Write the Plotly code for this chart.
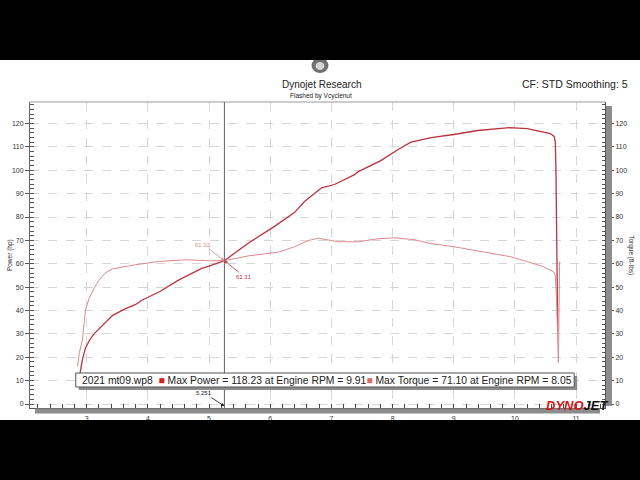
import plotly.graph_objects as go

# ---------------- data ----------------
power_rpm = [2.89, 2.93, 2.98, 3.05, 3.12, 3.21, 3.32, 3.42, 3.60, 3.80, 3.91, 4.19, 4.50,
             4.88, 5.00, 5.25, 5.65, 6.07, 6.40, 6.56, 6.80, 6.84, 7.05, 7.37, 7.44, 7.80,
             8.09, 8.30, 8.63, 9.00, 9.39, 9.70, 9.91, 10.20, 10.45, 10.58, 10.64, 10.66,
             10.67, 10.68, 10.69, 10.70]
power_hp = [13.0, 19.0, 24.0, 27.5, 30.0, 32.3, 35.5, 37.8, 40.4, 42.6, 44.5, 48.0, 53.0,
            58.0, 59.0, 61.31, 69.0, 76.0, 82.0, 86.6, 91.7, 92.5, 93.9, 98.0, 99.4, 104.0,
            108.9, 112.0, 114.0, 115.3, 117.0, 117.8, 118.23, 117.8, 116.5, 115.7, 114.5,
            112.0, 100.0, 80.0, 60.0, 31.0]

torque_rpm = [2.85, 2.88, 2.93, 2.98, 3.04, 3.12, 3.20, 3.30, 3.42, 3.60, 3.80, 4.19, 4.62,
              5.00, 5.25, 5.65, 6.14, 6.40, 6.63, 6.80, 6.84, 7.11, 7.44, 7.76, 8.05, 8.35,
              8.63, 9.00, 9.39, 9.93, 10.20, 10.47, 10.63, 10.66, 10.68, 10.70, 10.71,
              10.72, 10.73]
torque_ftlb = [16.0, 22.0, 27.4, 40.2, 45.2, 49.5, 53.0, 56.0, 57.8, 58.8, 59.6, 61.0, 61.7,
               61.3, 61.32, 63.4, 65.0, 67.3, 70.0, 71.0, 70.7, 69.4, 69.4, 70.7, 71.1, 70.3,
               68.6, 67.3, 65.6, 63.0, 60.9, 58.7, 56.6, 55.0, 45.0, 25.0, 17.6, 40.0, 61.0]

x_ticks = [3, 4, 5, 6, 7, 8, 9, 10, 11]
y_ticks = [0, 10, 20, 30, 40, 50, 60, 70, 80, 90, 100, 110, 120]

cursor_rpm = 5.251
cursor_power = 61.31
cursor_torque = 61.32

run_name = "2021 mt09.wp8"
max_power, max_power_rpm = 118.23, 9.91
max_torque, max_torque_rpm = 71.10, 8.05

# ---------------- layout geometry (pixels) ----------------
L, R, T, B = 27, 605, 102, 408
W, H = R - L, B - T


def px(x):
    return (x - L) / W


def py(y):
    return (B - y) / H


POWER_COLOR = "#b8343f"
TORQUE_COLOR = "#dc8a8e"
FONT = "Liberation Sans"

fig = go.Figure()
fig.add_trace(go.Scatter(x=power_rpm, y=power_hp, mode="lines",
                         line=dict(color=POWER_COLOR, width=1.3), yaxis="y",
                         showlegend=False, hoverinfo="skip"))
fig.add_trace(go.Scatter(x=torque_rpm, y=torque_ftlb, mode="lines",
                         line=dict(color=TORQUE_COLOR, width=1), yaxis="y2",
                         showlegend=False, hoverinfo="skip"))

yr = [-1.71, 129.2]

axis_common = dict(showgrid=True, gridcolor="#d6d6d6", griddash="dash", gridwidth=1,
                   zeroline=False, tickfont=dict(family=FONT, size=7, color="#333"))

fig.update_layout(
    width=640, height=480,
    margin=dict(l=L, r=640 - R, t=T, b=480 - B),
    paper_bgcolor="white", plot_bgcolor="white",
    xaxis=dict(range=[2.073, 11.472], tickvals=x_ticks, ticks="inside", ticklen=4,
               tickcolor="#444", showline=True, linecolor="#555", linewidth=1,
               mirror=False, ticklabelstandoff=4,
               minor=dict(dtick=0.2, tick0=0, ticks="inside", ticklen=4,
                          tickcolor="#444", showgrid=False),
               **axis_common),
    yaxis=dict(range=yr, tickvals=y_ticks, ticks="outside", ticklen=4,
               tickcolor="#555", showline=True, linecolor="#666", linewidth=1,
               minor=dict(dtick=2, tick0=0, ticks="inside", ticklen=4,
                          tickcolor="#555", showgrid=False),
               **axis_common),
    yaxis2=dict(range=yr, tickvals=y_ticks, overlaying="y", side="right",
                ticks="outside", ticklen=8, tickcolor="#555", showline=True,
                linecolor="#555", linewidth=1, showgrid=False, zeroline=False,
                tickfont=dict(family=FONT, size=7, color="#333"),
                minor=dict(dtick=2, tick0=0, ticks="inside", ticklen=3,
                           tickcolor="#555")),
    showlegend=False,
)

shapes = []
# top frame line
shapes.append(dict(type="line", xref="paper", yref="paper", x0=0, x1=1, y0=1, y1=1,
                   line=dict(color="#999", width=1)))
# x-axis gray bar
shapes.append(dict(type="rect", xref="paper", yref="paper", x0=px(32), x1=px(600),
                   y0=py(413.5), y1=py(408.5), fillcolor="#8c8c8c", line=dict(width=0)))
# right axis gray bar
shapes.append(dict(type="rect", xref="paper", yref="paper", x0=px(606), x1=px(612),
                   y0=py(406), y1=py(106), fillcolor="#8c8c8c", line=dict(width=0)))
# cursor line
shapes.append(dict(type="line", xref="x", yref="paper", x0=cursor_rpm, x1=cursor_rpm,
                   y0=0, y1=1, line=dict(color="#666", width=1)))
# legend box shadow + box
shapes.append(dict(type="rect", xref="paper", yref="paper", x0=px(76), x1=px(577),
                   y0=py(390), y1=py(376), fillcolor="#8c8c8c", line=dict(width=0)))
shapes.append(dict(type="rect", xref="paper", yref="paper", x0=px(73), x1=px(574),
                   y0=py(387), y1=py(373), fillcolor="white",
                   line=dict(color="#555", width=1)))
# top emblem (partially hidden)
shapes.append(dict(type="circle", xref="paper", yref="paper", x0=px(310), x1=px(327),
                   y0=py(73), y1=py(58), fillcolor="#333", line=dict(width=0),
                   opacity=0.7))
shapes.append(dict(type="circle", xref="paper", yref="paper", x0=px(314), x1=px(323),
                   y0=py(70), y1=py(62), fillcolor="#eee", line=dict(width=0),
                   opacity=0.8))
# black letterbox bars
shapes.append(dict(type="rect", xref="paper", yref="paper", x0=px(-5), x1=px(645),
                   y0=py(60), y1=py(-5), fillcolor="black", line=dict(width=0)))
shapes.append(dict(type="rect", xref="paper", yref="paper", x0=px(-5), x1=px(645),
                   y0=py(485), y1=py(420), fillcolor="black", line=dict(width=0)))
fig.update_layout(shapes=shapes)


def label(x, y, text, size, color="#222", xanchor="center", **kw):
    return dict(xref="paper", yref="paper", x=px(x), y=py(y), text=text,
                showarrow=False, xanchor=xanchor, yanchor="middle",
                font=dict(family=FONT, size=size, color=color), **kw)


ann = []
ann.append(label(320, 84, "Dynojet Research", 10))
ann.append(label(320, 96, "Flashed by Vcyclenut", 6.5))
ann.append(label(630, 84, "CF: STD Smoothing: 5", 10.5, xanchor="right"))
ann.append(label(7, 255, "Power (hp)", 6.5, "#333", textangle=-90))
ann.append(label(631, 255, "Torque (ft-lbs)", 6.5, "#333", textangle=90))
# cursor readouts
ann.append(dict(x=cursor_rpm, y=cursor_torque, yref="y2", text=f"{cursor_torque:.2f}",
                showarrow=True, ax=-21, ay=-16, arrowhead=2, arrowsize=0.8,
                arrowwidth=0.8, arrowcolor=TORQUE_COLOR,
                font=dict(family=FONT, size=6, color=TORQUE_COLOR)))
ann.append(dict(x=cursor_rpm, y=cursor_power, text=f"{cursor_power:.2f}",
                showarrow=True, ax=20, ay=16, arrowhead=2, arrowsize=0.8,
                arrowwidth=0.8, arrowcolor=POWER_COLOR,
                font=dict(family=FONT, size=6, color=POWER_COLOR)))
ann.append(dict(x=cursor_rpm, y=-0.9, text=f"{cursor_rpm:.3f}", showarrow=True,
                ax=-20, ay=-13, arrowhead=2, arrowsize=0.8, arrowwidth=0.8,
                arrowcolor="#111", font=dict(family=FONT, size=6, color="#222")))
# legend text
legend_text = (f"{run_name}  <span style='color:#d42020'>■</span> Max Power = "
               f"{max_power:.2f} at Engine RPM = {max_power_rpm:.2f}"
               f"<span style='color:#e06a6a'>■</span> Max Torque = {max_torque:.2f}"
               f" at Engine RPM = {max_torque_rpm:.2f}")
ann.append(label(77, 380.5, legend_text, 10.35, xanchor="left"))
# DYNOJET logo
ann.append(label(577, 405, "<b><i><span style='color:#d01818'>DYNO</span>JET</i></b>",
                 13, "#111"))
fig.update_layout(annotations=ann)

fig.write_html("out.html", config={"displayModeBar": False},
               post_script="document.body.style.margin='0';"
                           "document.body.style.overflow='hidden';")
